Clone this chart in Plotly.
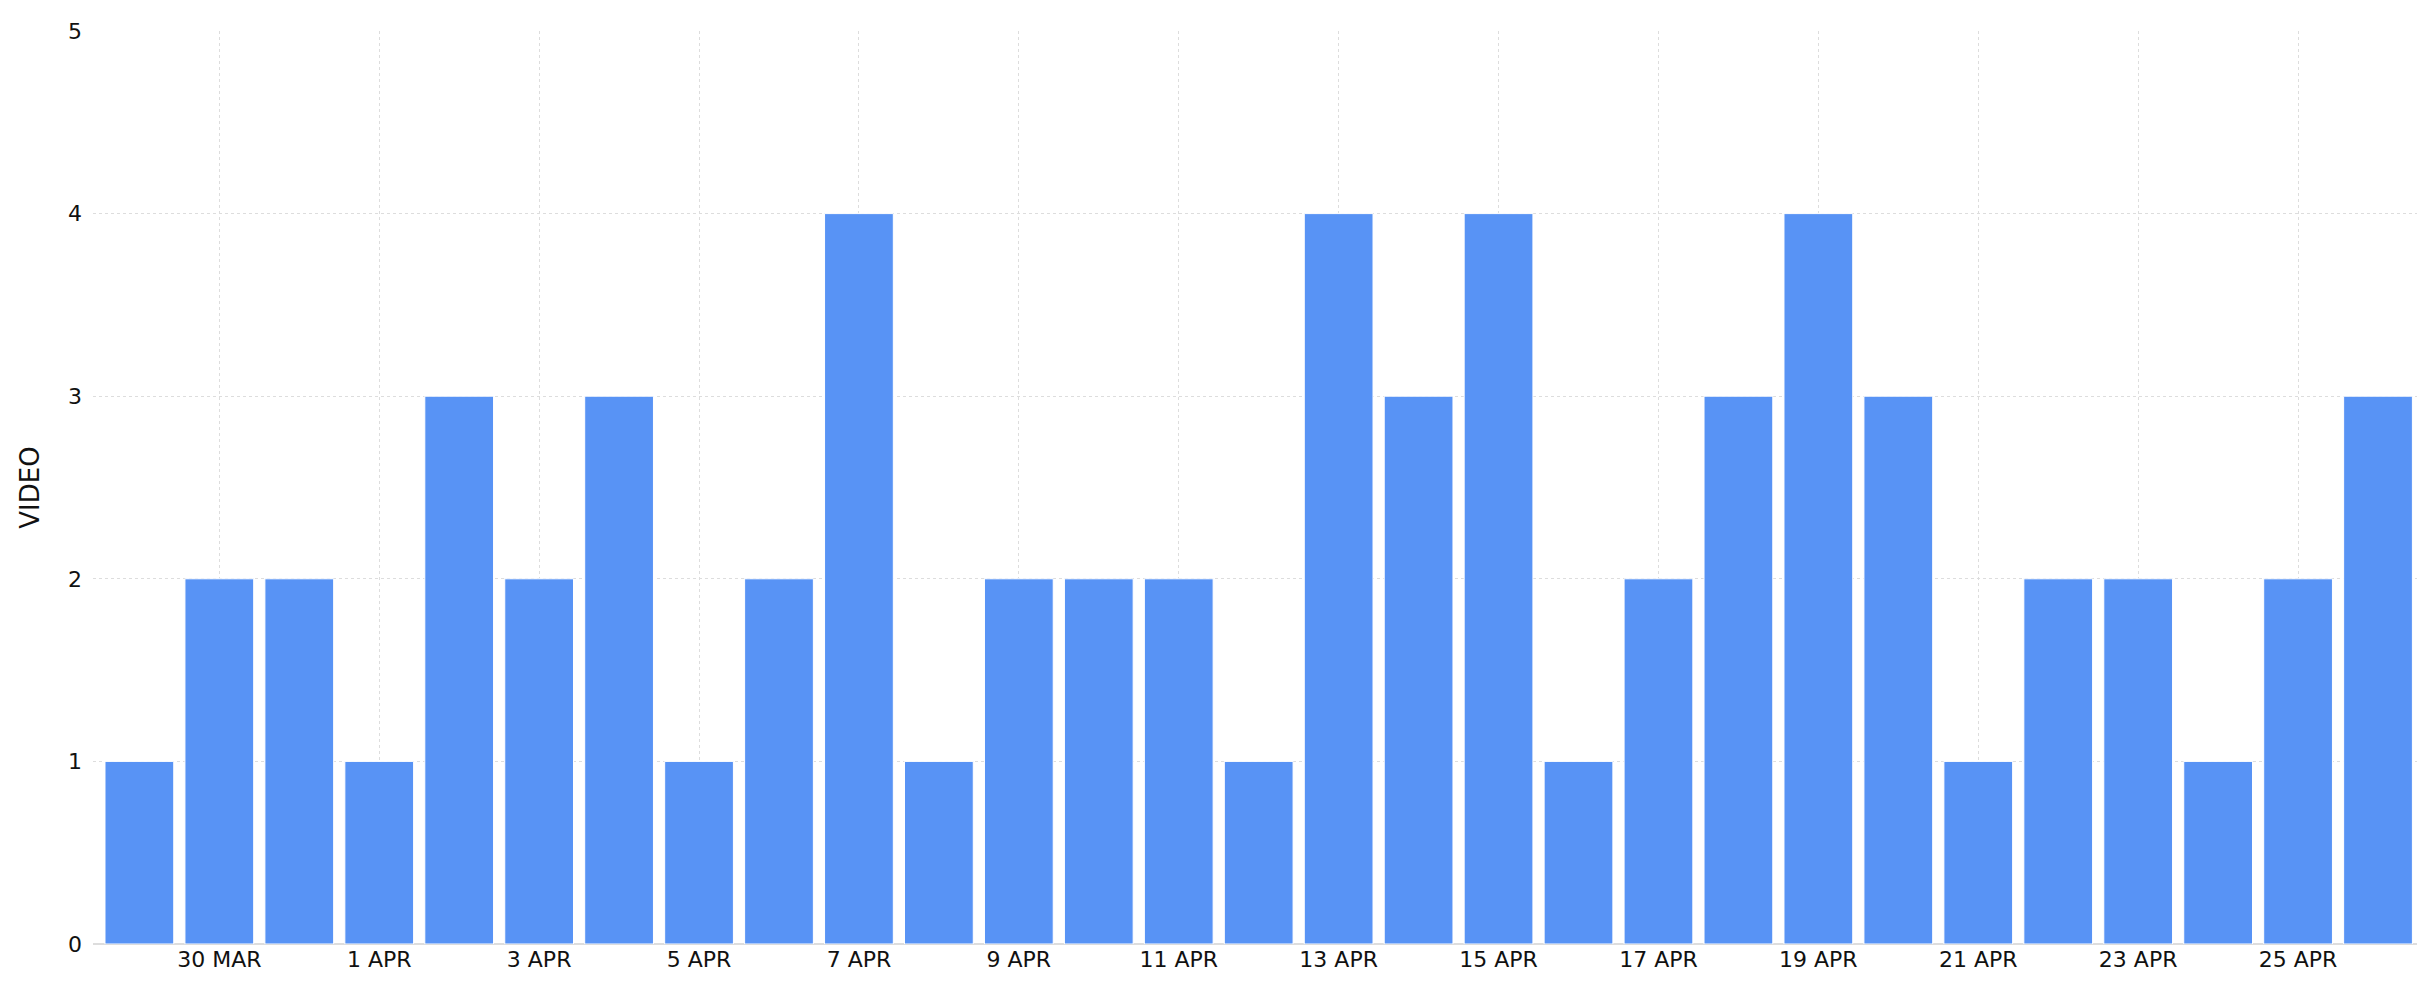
import plotly.graph_objects as go

days = ["29 MAR", "30 MAR", "31 MAR"] + [f"{d} APR" for d in range(1, 27)]
video = [1, 2, 2, 1, 3, 2, 3, 1, 2, 4, 1, 2, 2, 2, 1, 4, 3, 4, 1, 2, 3, 4, 3, 1, 2, 2, 1, 2, 3]
tick_idx = list(range(1, len(days), 2))
tick_labels = [days[i] for i in tick_idx]

fig = go.Figure(
    go.Bar(
        x=list(range(len(days))),
        y=video,
        marker={"color": "#5893f5", "line": {"color": "white", "width": 1}},
        hovertext=days,
    )
)

fig.update_layout(
    width=2425,
    height=1000,
    margin={"l": 85, "r": 15, "t": 23, "b": 64},
    plot_bgcolor="white",
    paper_bgcolor="white",
    bargap=0.14,
    showlegend=False,
    font={"family": "DejaVu Sans", "size": 22, "color": "#111"},
)
fig.update_xaxes(
    range=[-0.58, 28.5],
    tickvals=tick_idx,
    ticktext=tick_labels,
    showgrid=True,
    gridcolor="#dddddd",
    griddash="dot",
    zeroline=False,
    ticks="",
    showline=False,
)
fig.update_yaxes(
    range=[0, 5],
    dtick=1,
    title={"text": "VIDEO", "standoff": 20},
    showgrid=True,
    gridcolor="#dddddd",
    griddash="dot",
    zeroline=True,
    zerolinecolor="#dddddd",
    ticks="",
    ticklabelstandoff=10,
)

fig.write_html("out.html")
